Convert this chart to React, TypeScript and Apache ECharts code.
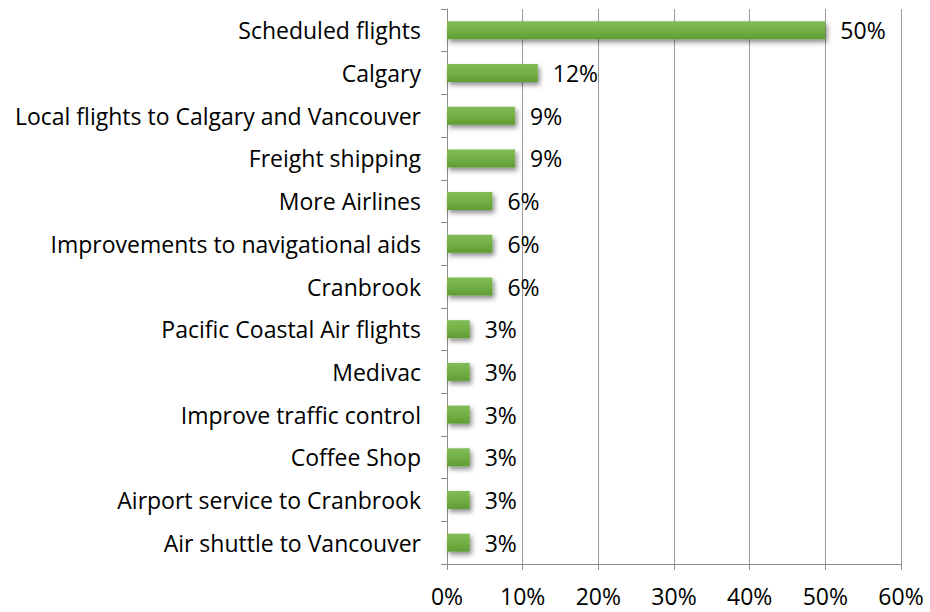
import React, { useEffect, useRef } from "react";
import * as echarts from "echarts";

const categories = [
  "Scheduled flights",
  "Calgary",
  "Local flights to Calgary and Vancouver",
  "Freight shipping",
  "More Airlines",
  "Improvements to navigational aids",
  "Cranbrook",
  "Pacific Coastal Air flights",
  "Medivac",
  "Improve traffic control",
  "Coffee Shop",
  "Airport service to Cranbrook",
  "Air shuttle to Vancouver",
];
const values = [50, 12, 9, 9, 6, 6, 6, 3, 3, 3, 3, 3, 3];
const xTicks = [0, 10, 20, 30, 40, 50, 60];

const FONT = "'Open Sans', 'Noto Sans', sans-serif";
const FS = 23;

export default function App() {
  const ref = useRef<HTMLDivElement>(null);
  useEffect(() => {
    if (!ref.current) return;
    const chart = echarts.init(ref.current, undefined, { renderer: "svg" });
    chart.setOption({
      animation: false,
      grid: { left: 447, right: 29, top: 9, bottom: 48, containLabel: false },
      xAxis: {
        type: "value",
        min: xTicks[0],
        max: xTicks[xTicks.length - 1],
        interval: 10,
        axisLine: { show: true, lineStyle: { color: "#8c8c8c", width: 1 } },
        axisTick: { show: true, length: 6, lineStyle: { color: "#8c8c8c" } },
        splitLine: { show: true, lineStyle: { color: "#9a9a9a", width: 1 } },
        axisLabel: {
          formatter: (v: number) => `${v}%`,
          color: "#000",
          fontSize: FS,
          fontFamily: FONT,
          margin: 20,
        },
      },
      yAxis: {
        type: "category",
        data: categories,
        inverse: true,
        axisLine: { show: true, lineStyle: { color: "#8c8c8c", width: 1 } },
        axisTick: { show: true, length: 6, lineStyle: { color: "#8c8c8c" } },
        axisLabel: {
          color: "#000",
          fontSize: FS,
          fontFamily: FONT,
          margin: 26,
        },
      },
      series: [
        {
          type: "bar",
          data: values,
          barWidth: 18,
          itemStyle: {
            color: new echarts.graphic.LinearGradient(0, 0, 0, 1, [
              { offset: 0, color: "#82bb57" },
              { offset: 0.5, color: "#72b044" },
              { offset: 1, color: "#5f9c34" },
            ]),
            shadowColor: "rgba(0,0,0,0.45)",
            shadowBlur: 5,
            shadowOffsetX: 2,
            shadowOffsetY: 3,
          },
          label: {
            show: true,
            position: "right",
            distance: 15,
            formatter: (p: any) => `${p.value}%`,
            color: "#000",
            fontSize: FS,
            fontFamily: FONT,
          },
        },
      ],
    });
    return () => chart.dispose();
  }, []);
  return (
    <div
      ref={ref}
      style={{ position: "absolute", left: 0, top: 0, width: 930, height: 612 }}
    />
  );
}
